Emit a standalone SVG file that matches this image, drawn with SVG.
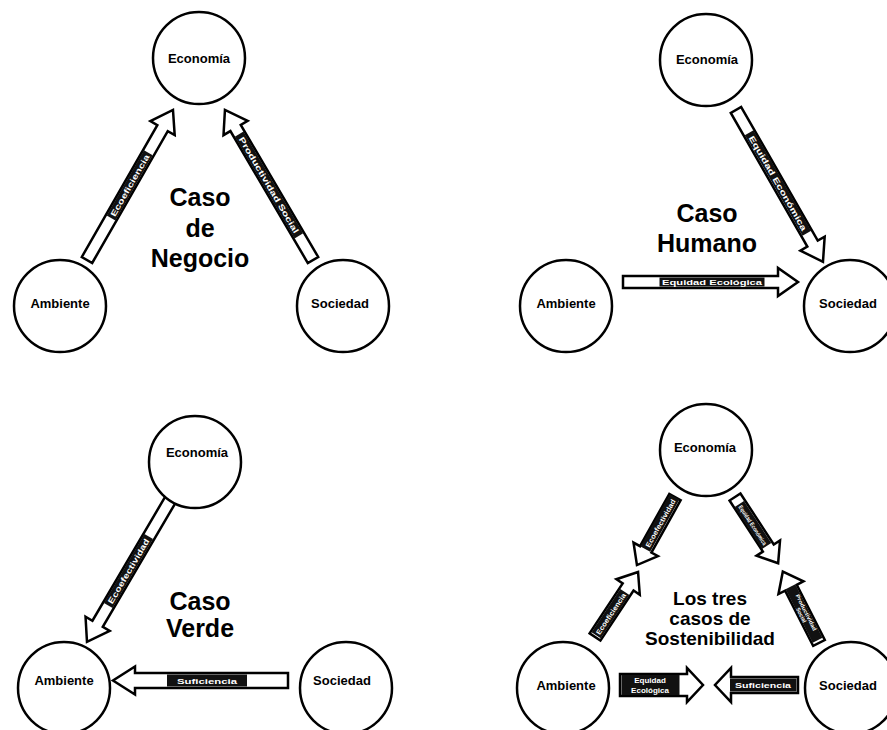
<svg xmlns="http://www.w3.org/2000/svg" width="887" height="730" viewBox="0 0 887 730">
<style>
.node circle{fill:#fff;stroke:#000;stroke-width:2.5}
.node text{font-family:"Liberation Sans",Arial,sans-serif;font-weight:bold;font-size:13px;text-anchor:middle;fill:#000}
.title{font-family:"Liberation Sans",Arial,sans-serif;font-weight:bold;font-size:25px;text-anchor:middle;fill:#000}
.title2{font-family:"Liberation Sans",Arial,sans-serif;font-weight:bold;font-size:19px;text-anchor:middle;fill:#000}
.arr{fill:#fff;stroke:#000;stroke-width:2.5;stroke-linejoin:miter}
.lb rect{fill:#111}
.lb text{font-family:"Liberation Sans",Arial,sans-serif;font-weight:bold;font-size:8px;text-anchor:middle;fill:#fff}
</style>
<rect width="887" height="730" fill="#fff"/>
<g id="connectors">
  <!-- Q1 -->
  <path class="arr" transform="translate(87,260) rotate(-60.2)" d="M0,-6 H152 V-14 L173,0 L152,14 V6 H0 Z"/>
  <g class="lb" transform="translate(129.7,185.4) rotate(-60.2)"><rect x="-37.5" y="-5" width="75" height="10"/><text y="3" textLength="70" lengthAdjust="spacingAndGlyphs">Ecoeficiencia</text></g>
  <path class="arr" transform="translate(313,260) rotate(-120.4)" d="M0,-6 H153 V-14 L174,0 L153,14 V6 H0 Z"/>
  <g class="lb" transform="translate(269,185) rotate(59.6)"><rect x="-59" y="-5" width="118" height="10"/><text y="3" textLength="110" lengthAdjust="spacingAndGlyphs">Productividad Social</text></g>
  <!-- Q2 -->
  <path class="arr" transform="translate(736,110) rotate(60.2)" d="M0,-6 H154 V-14 L175,0 L154,14 V6 H0 Z"/>
  <g class="lb" transform="translate(778,183) rotate(60.2)"><rect x="-58" y="-5" width="116" height="10"/><text y="3" textLength="108" lengthAdjust="spacingAndGlyphs">Equidad Económica</text></g>
  <path class="arr" transform="translate(623,282)" d="M0,-6 H155 V-14 L175,0 L155,14 V6 H0 Z"/>
  <g class="lb" transform="translate(712,282)"><rect x="-52.5" y="-4.5" width="105" height="9"/><text y="3" textLength="100" lengthAdjust="spacingAndGlyphs">Equidad Ecológica</text></g>
  <!-- Q3 -->
  <path class="arr" transform="translate(172,497) rotate(120.4)" d="M0,-6 H147 V-14 L168,0 L147,14 V6 H0 Z"/>
  <g class="lb" transform="translate(128.5,571) rotate(-59.6)"><rect x="-40" y="-5" width="80" height="10"/><text y="3" textLength="74" lengthAdjust="spacingAndGlyphs">Ecoefectividad</text></g>
  <path class="arr" transform="translate(288,680.5) rotate(180)" d="M0,-7.5 H153 V-14 L175,0 L153,14 V7.5 H0 Z"/>
  <g class="lb" transform="translate(207,680.5)"><rect x="-40" y="-6" width="80" height="12"/><text y="3.5" textLength="60" lengthAdjust="spacingAndGlyphs">Suficiencia</text></g>
  <!-- Q4 -->
  <path class="arr" transform="translate(675,497) rotate(119.2)" d="M0,-6.5 H60 V-14 L78,0 L60,14 V6.5 H0 Z"/>
  <g class="lb" transform="translate(660,523) rotate(-60.8)"><rect x="-30" y="-5.5" width="60" height="11"/><text y="3" style="font-size:7px" textLength="54" lengthAdjust="spacingAndGlyphs">Ecoefectividad</text></g>
  <path class="arr" transform="translate(735,497) rotate(56.9)" d="M0,-6.5 H61 V-14 L79,0 L61,14 V6.5 H0 Z"/>
  <g class="lb" transform="translate(753,525) rotate(56.9)"><rect x="-25" y="-5.5" width="50" height="11"/><text y="2.5" style="font-size:6px" textLength="46" lengthAdjust="spacingAndGlyphs">Equidad Económica</text></g>
  <path class="arr" transform="translate(595,637) rotate(-56.5)" d="M0,-6.5 H60 V-14 L78,0 L60,14 V6.5 H0 Z"/>
  <g class="lb" transform="translate(610.5,613.6) rotate(-56.5)"><rect x="-26" y="-5.5" width="52" height="11"/><text y="3" style="font-size:7px" textLength="48" lengthAdjust="spacingAndGlyphs">Ecoeficiencia</text></g>
  <path class="arr" transform="translate(819,643) rotate(-116.9)" d="M0,-6.5 H62 V-14 L80,0 L62,14 V6.5 H0 Z"/>
  <g class="lb" transform="translate(804,613.6) rotate(63.1)"><rect x="-30" y="-5.5" width="60" height="11"/><text y="-0.5" style="font-size:5.5px" textLength="40" lengthAdjust="spacingAndGlyphs">Productividad</text><text y="5" style="font-size:5.5px">Social</text></g>
  <path class="arr" transform="translate(620,685)" d="M0,-11 H67 V-17 L83,0 L67,17 V11 H0 Z"/>
  <g class="lb"><rect x="621.5" y="675" width="58" height="20"/><text x="650" y="683" style="font-size:8px">Equidad</text><text x="650" y="693" style="font-size:8px">Ecológica</text></g>
  <path class="arr" transform="translate(798,685) rotate(180)" d="M0,-8 H67 V-17 L83,0 L67,17 V8 H0 Z"/>
  <g class="lb"><rect x="730" y="678.5" width="66.5" height="13"/><text x="763" y="688" textLength="56" lengthAdjust="spacingAndGlyphs">Suficiencia</text></g>
</g>
<!-- Q1 nodes -->
<g id="q1-economia" class="node"><circle cx="199" cy="58" r="46"/><text x="199" y="63">Economía</text></g>
<g id="q1-ambiente" class="node"><circle cx="60" cy="306" r="46"/><text x="60" y="308">Ambiente</text></g>
<g id="q1-sociedad" class="node"><circle cx="343" cy="306" r="46"/><text x="340" y="308">Sociedad</text></g>
<text class="title" x="200" y="206">Caso</text>
<text class="title" x="200" y="237">de</text>
<text class="title" x="200" y="267">Negocio</text>
<!-- Q2 nodes -->
<g id="q2-economia" class="node"><circle cx="706" cy="60" r="46"/><text x="707" y="64">Economía</text></g>
<g id="q2-ambiente" class="node"><circle cx="566" cy="306" r="46"/><text x="566" y="308">Ambiente</text></g>
<g id="q2-sociedad" class="node"><circle cx="850" cy="306" r="46"/><text x="848" y="308">Sociedad</text></g>
<text class="title" x="707" y="222">Caso</text>
<text class="title" x="707" y="252">Humano</text>
<!-- Q3 nodes -->
<g id="q3-economia" class="node"><circle cx="195" cy="462" r="46"/><text x="197" y="457">Economía</text></g>
<g id="q3-ambiente" class="node"><circle cx="64" cy="688" r="46"/><text x="64" y="685">Ambiente</text></g>
<g id="q3-sociedad" class="node"><circle cx="346" cy="688" r="46"/><text x="342" y="685">Sociedad</text></g>
<text class="title" x="200" y="610">Caso</text>
<text class="title" x="200" y="637">Verde</text>
<!-- Q4 nodes -->
<g id="q4-economia" class="node"><circle cx="706" cy="450" r="46"/><text x="705" y="452">Economía</text></g>
<g id="q4-ambiente" class="node"><circle cx="563" cy="688" r="46"/><text x="566" y="690">Ambiente</text></g>
<g id="q4-sociedad" class="node"><circle cx="851" cy="688" r="46"/><text x="848" y="690">Sociedad</text></g>
<text class="title2" x="710" y="605">Los tres</text>
<text class="title2" x="710" y="625">casos de</text>
<text class="title2" x="710" y="645">Sostenibilidad</text>
</svg>
